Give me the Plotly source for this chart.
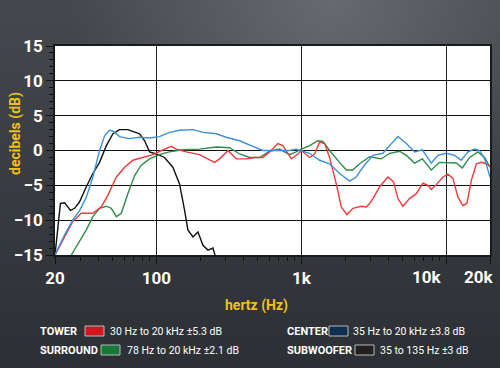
import base64
import plotly.graph_objects as go

# ---------------- data ----------------
tower_f = [20, 23.3, 26.5, 30.3, 36.5, 41.7, 46.4, 53, 60.4, 68.9, 80.7, 94.6, 111, 126.7, 137,
           160.7, 198.6, 227, 252, 273, 312, 356, 417, 476, 543, 604, 689, 746, 853, 947, 1000,
           1140, 1233, 1336, 1449, 1566, 1741, 1885, 2060, 2267, 2590, 2805, 2958, 3114, 3470,
           3954, 4325, 4632, 5012, 5575, 6204, 6890, 7460, 7873, 8530, 9470, 10250, 11100,
           12020, 13010, 13860, 14870, 16100, 17420, 18840, 20000]
tower_db = [-15, -12.4, -10.2, -9.0, -9.0, -8.1, -6.4, -3.8, -2.4, -1.4, -1.0, -0.6, 0.1, 0.6, 0.2,
            -0.2, -0.6, -1.2, -1.7, -1.2, 0, -1.2, -1.2, -1.0, -1.0, -0.2, 1.0, 0.7, -1.2, -0.5, 0,
            -1.0, -0.5, 1.2, 1.0, -1.0, -4.8, -8.1, -9.2, -8.3, -8.0, -8.1, -7.6, -6.9, -5.2,
            -3.8, -4.5, -6.9, -8.0, -6.9, -6.2, -4.7, -5.0, -5.6, -4.9, -3.8, -3.4, -4.0,
            -6.7, -7.9, -7.6, -4.3, -1.9, -1.7, -1.9, -2.3]

center_f = [20, 23.3, 26.5, 29.6, 32.9, 36.5, 40.6, 44, 47.6, 50.2, 55.7, 65.3, 76.6, 89.8, 105,
            123, 144.5, 178.8, 209.6, 259, 303, 375, 463, 543, 604, 708, 830, 922, 1000, 1140,
            1336, 1566, 1836, 2152, 2392, 2657, 3114, 3650, 4062, 4632, 5297, 6044, 6826, 7270,
            7873, 8750, 9990, 11400, 12680, 14090, 15660, 16950, 18360, 20000]
center_db = [-15, -12.1, -10.0, -8.6, -6.7, -3.8, 0, 2.1, 2.9, 2.8, 2.0, 1.7, 1.9, 1.8, 2.0,
             2.6, 2.9, 3.0, 2.6, 2.4, 1.9, 1.4, 0.6, 0, 0, 0, 0, 0.2, 0, -0.4,
             -1.4, -1.9, -3.3, -4.4, -3.8, -2.4, -0.7, -0.4, 0.7, 2.0, 1.0, -0.2, 0.1, -0.7,
             -1.8, -0.7, -0.4, -0.7, -1.4, -0.2, 0.2, 0, -1.2, -3.8]

surround_f = [25.9, 29.6, 32.9, 36.5, 40.6, 45.2, 48.9, 53, 57.3, 63.6, 70.8, 78.7, 89.8, 105, 123,
              152, 198.6, 259, 320, 375, 440, 515, 604, 708, 830, 922, 1000, 1140, 1300, 1409,
              1566, 1836, 2042, 2258, 2525, 2958, 3556, 4062, 4760, 5297, 6044, 6826, 7873,
              8970, 10520, 11700, 12880, 14460, 16510, 18360, 20000]
surround_db = [-15, -12.9, -11.4, -9.5, -8.3, -8.0, -8.3, -9.5, -9.0, -6.2, -3.6, -2.1, -1.2, -0.6, -0.2,
               0.1, 0.2, 0.5, 0.4, -0.5, -1.0, -1.0, -0.1, 0.2, -0.6, -0.2, 0.2, 0.7, 1.4, 1.3,
               0, -1.7, -2.8, -2.8, -1.9, -0.9, -1.2, -0.4, -0.1, -0.7, -1.8, -1.2, -2.8,
               -1.7, -1.7, -1.8, -2.5, -1.0, -0.2, -1.0, -2.4]

sub_f = [20, 21.8, 23.3, 25.6, 27.3, 29.5, 32.9, 36.5, 40.6, 45.2, 50.2, 55.7, 63.6, 70.8, 76.6,
         83, 89.8, 100, 113.8, 130, 144.5, 156.6, 165, 178.8, 193.6, 209.6, 227, 245.7, 255]
sub_db = [-15, -7.6, -7.5, -8.6, -8.3, -7.4, -5.2, -3.3, -1.7, 0.7, 2.4, 3.0, 3.0, 2.6, 2.4,
          1.4, -0.2, -0.5, -1.0, -2.4, -4.8, -8.6, -11.4, -12.4, -11.7, -13.6, -14.3, -14.0, -15.2]

x_tickvals = [20, 100, 1000, 10000, 20000]
x_ticktext = ["20", "100", "1k", "", ""]
# the last two labels sit left of their ticks in the reference
x_extra_labels = ["10k", "20k"]
y_tickvals = [15, 10, 5, 0, -5, -10, -15]

legend_names = ["TOWER", "SURROUND", "CENTER", "SUBWOOFER"]
legend_desc = ["30 Hz to 20 kHz \u00b15.3 dB", "78 Hz to 20 kHz \u00b12.1 dB",
               "35 Hz to 20 kHz \u00b13.8 dB", "35 to 135 Hz \u00b13 dB"]
legend_swatch = ["#d3161f", "#17783a", "#0f2f52", "#231f20"]

# ---------------- layout geometry ----------------
W, H = 500, 368
L, R, T, B = 55, 10, 46, 113
PW, PH = W - L - R, H - T - B

def px(x):
    return (x - L) / PW

def py(y):
    return (H - B - y) / PH

FONT = "Roboto, Liberation Sans, sans-serif"

fig = go.Figure()
series = [
    (sub_f, sub_db, "#111111"),
    (surround_f, surround_db, "#2e8b4e"),
    (tower_f, tower_db, "#ee3b3b"),
    (center_f, center_db, "#3d8fdc"),
]
for f, d, c in series:
    fig.add_trace(go.Scatter(x=f, y=d, mode="lines", line=dict(color=c, width=1.4),
                             showlegend=False, hoverinfo="skip"))

# background gradient image
svg = f'''<svg xmlns="http://www.w3.org/2000/svg" width="{W}" height="{H}">
<defs>
<linearGradient id="g" x1="0" y1="0" x2="0" y2="1">
<stop offset="0" stop-color="#45484d"/><stop offset="1" stop-color="#2c2f33"/></linearGradient>
<radialGradient id="r" cx="330" cy="0" r="260" gradientUnits="userSpaceOnUse">
<stop offset="0" stop-color="#6a6d71" stop-opacity="0.9"/><stop offset="1" stop-color="#6a6d71" stop-opacity="0"/></radialGradient>
</defs>
<rect width="{W}" height="{H}" fill="url(#g)"/>
<rect width="{W}" height="{H}" fill="url(#r)"/>
</svg>'''
src = "data:image/svg+xml;base64," + base64.b64encode(svg.encode()).decode()
fig.add_layout_image(dict(source=src, xref="paper", yref="paper", x=px(0), y=py(0),
                          sizex=W / PW, sizey=H / PH, xanchor="left", yanchor="top",
                          sizing="stretch", layer="below"))

shapes = [dict(type="rect", xref="paper", yref="paper", x0=0, x1=1, y0=0, y1=1,
               fillcolor="white", line=dict(width=0), layer="below")]

annotations = [
    dict(text="hertz (Hz)", xref="paper", yref="paper", x=px(256), y=py(305),
         xanchor="center", yanchor="middle",
         showarrow=False, font=dict(family=FONT, size=14, color="#f2c01e", weight="bold")),
    dict(text="decibels (dB)", xref="paper", yref="paper", x=px(15), y=py(134),
         xanchor="center", yanchor="middle",
         textangle=-90, showarrow=False,
         font=dict(family=FONT, size=14, color="#f2c01e", weight="bold")),
]
for lbl, cx in zip(x_extra_labels, [427, 479]):
    annotations.append(dict(text=lbl, xref="paper", yref="paper", x=px(cx), y=py(277),
                            xanchor="center", yanchor="middle", showarrow=False,
                            font=dict(family=FONT, size=17, color="white", weight="bold")))

# legend layout: (name x, swatch x0, text x, y)
leg_pos = [(38, 85, 108, 331), (38, 101, 125, 350), (285, 329, 351, 331), (285, 355, 378, 350)]
for (nx, sx, tx, yy), nm, ds, col in zip(leg_pos, legend_names, legend_desc, legend_swatch):
    annotations.append(dict(text=nm, xref="paper", yref="paper", x=px(nx), y=py(yy),
                            xanchor="left", yanchor="middle", showarrow=False,
                            font=dict(family=FONT, size=11, color="white", weight="bold")))
    annotations.append(dict(text=ds, xref="paper", yref="paper", x=px(tx), y=py(yy),
                            xanchor="left", yanchor="middle", showarrow=False,
                            font=dict(family=FONT, size=10.5, color="white")))
    shapes.append(dict(type="rect", xref="paper", yref="paper", x0=px(sx), x1=px(sx + 19),
                       y0=py(yy + 5), y1=py(yy - 5), fillcolor=col,
                       line=dict(color="#b8b8b8", width=1)))

fig.update_layout(
    width=W, height=H, margin=dict(l=L, r=R, t=T, b=B, autoexpand=False),
    paper_bgcolor="#383b40", plot_bgcolor="white",
    shapes=shapes, annotations=annotations,
    xaxis=dict(type="log", range=[1.30103, 4.30104], tickvals=x_tickvals, ticktext=x_ticktext,
               automargin=False,
               showgrid=True, gridcolor="#222222", gridwidth=1.2,
               showline=True, linecolor="#1a1a1a", linewidth=1.5, mirror=True,
               ticks="outside", ticklen=7, tickcolor="#111111", tickwidth=1.2,
               tickfont=dict(family=FONT, size=17, color="white", weight="bold"),
               minor=dict(dtick="D1", ticks="outside", ticklen=4, tickcolor="#111111",
                          tickwidth=1, showgrid=False),
               zeroline=False, fixedrange=True),
    yaxis=dict(range=[-15, 15], tickvals=y_tickvals, automargin=False,
               showgrid=True, gridcolor="#111111", gridwidth=1.3,
               showline=True, linecolor="#1a1a1a", linewidth=1.5, mirror=True,
               ticks="outside", ticklen=7, tickcolor="#111111", tickwidth=1.2,
               tickfont=dict(family=FONT, size=17, color="white", weight="bold"),
               minor=dict(dtick=1, ticks="outside", ticklen=4, tickcolor="#111111",
                          tickwidth=1, showgrid=False),
               zeroline=False, fixedrange=True),
)

fig.write_html("out.html", config={"displayModeBar": False},
               post_script="document.body.style.margin='0';document.body.style.overflow='hidden';")
